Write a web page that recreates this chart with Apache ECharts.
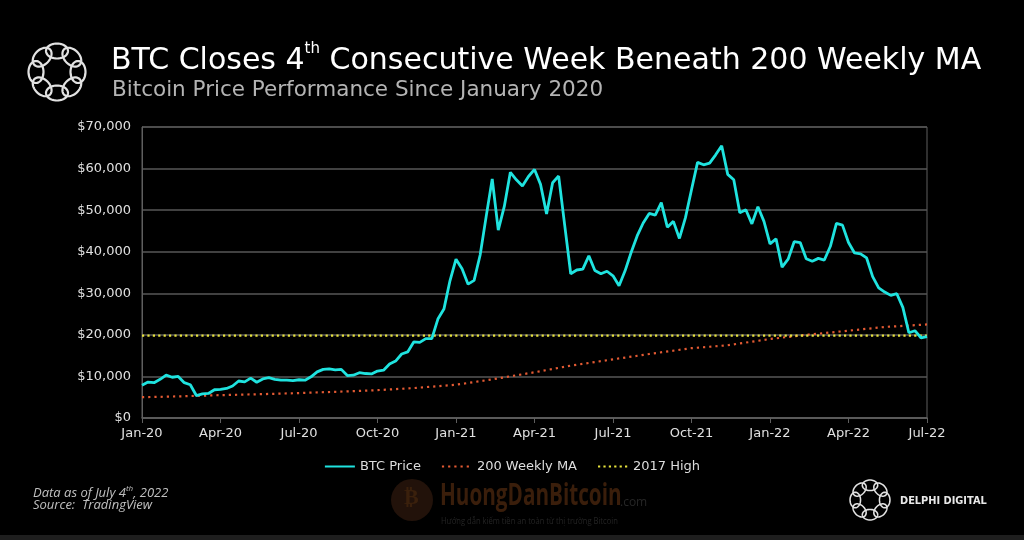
<!DOCTYPE html>
<html><head><meta charset="utf-8">
<script src="https://cdn.jsdelivr.net/npm/echarts@6/dist/echarts.min.js"></script>
<style>html,body{margin:0;padding:0;background:#000;}#c{width:1024px;height:540px;}</style>
</head><body><div id="c"></div>
<script>
const quarterLabels = ['Jan-20','Apr-20','Jul-20','Oct-20','Jan-21','Apr-21','Jul-21','Oct-21','Jan-22','Apr-22','Jul-22'];
const weeksPerQuarter = 13;
const btcPrice = [
  7900, 8650, 8500, 9300, 10300, 9800, 10000, 8500, 8000, 5400,
  5800, 5900, 6800, 6900, 7100, 7700, 8900, 8700, 9600, 8600,
  9400, 9700, 9300, 9100, 9100, 9000, 9200, 9100, 9900, 11100,
  11700, 11800, 11600, 11700, 10200, 10300, 10900, 10700, 10600, 11300,
  11500, 13000, 13700, 15400, 15900, 18300, 18200, 19100, 19100, 23800,
  26200, 33000, 38200, 35900, 32200, 33100, 39200, 48500, 57500, 45200,
  50900, 59100, 57300, 55800, 58100, 59800, 56200, 49100, 56600, 58200,
  46400, 34700, 35600, 35800, 39000, 35500, 34700, 35300, 34200, 31800,
  35400, 39800, 43800, 46900, 49200, 48800, 51800, 45900, 47300, 43200,
  48200, 54900, 61500, 60900, 61300, 63300, 65500, 58600, 57300, 49400,
  50100, 46700, 50800, 47300, 41900, 43100, 36300, 38200, 42400, 42200,
  38300, 37700, 38400, 38000, 41300, 46800, 46400, 42200, 39700, 39500,
  38500, 34000, 31300, 30300, 29500, 29900, 26600, 20500, 21000, 19300,
  19600
];
const maWeeks  = [0, 6, 13, 19, 26, 32, 39, 45, 52, 58, 65, 71, 78, 84, 91, 97, 104, 110, 117, 123, 130];
const maValues = [5000, 5200, 5500, 5700, 6000, 6300, 6700, 7200, 8000, 9300, 11000, 12600, 14100, 15400, 16800, 17500, 19000, 20000, 21000, 21900, 22500];
const high2017 = 19800;
const seriesNames = ['BTC Price', '200 Weekly MA', '2017 High'];

const FONT = 'DejaVu Sans';
const chart = echarts.init(document.getElementById('c'), null, {renderer: 'canvas'});

// decorative logo: 8 tangential loops around a ring
function logo(cx, cy, s) {
  const els = [];
  const R = 21 * s, rx = 11 * s, ry = 7.5 * s;
  for (let k = 0; k < 8; k++) {
    const a = k * Math.PI / 4 - Math.PI / 2;
    const phi = a + Math.PI / 2;
    const ox = cx + Math.cos(a) * R, oy = cy + Math.sin(a) * R;
    const pts = [];
    for (let j = 0; j < 48; j++) {
      const t = j / 48 * Math.PI * 2;
      const lx = rx * Math.cos(t), ly = ry * Math.sin(t);
      pts.push([ox + lx * Math.cos(phi) - ly * Math.sin(phi), oy + lx * Math.sin(phi) + ly * Math.cos(phi)]);
    }
    els.push({type: 'polygon', shape: {points: pts}, style: {fill: 'none', stroke: '#e2e2e2', lineWidth: 2.2 * s}});
  }
  return els;
}

const option = {
  backgroundColor: '#000',
  animation: false,
  title: [{
    text: '{a|BTC Closes 4}{s|th}{a| Consecutive Week Beneath 200 Weekly MA}',
    left: 106, top: 37,
    textStyle: {
      rich: {
        a: {fontSize: 30, color: '#ffffff', fontFamily: FONT, fontWeight: 'normal', lineHeight: 38},
        s: {fontSize: 15, color: '#ffffff', fontFamily: FONT, fontWeight: 'normal', lineHeight: 22, verticalAlign: 'top'}
      }
    }
  }, {
    text: 'Bitcoin Price Performance Since January 2020',
    left: 107, top: 74,
    textStyle: {fontSize: 21.5, color: '#b4b4b4', fontWeight: 'normal', fontFamily: FONT}
  }],
  legend: {
    top: 455, left: 'center',
    itemWidth: 30, itemHeight: 10, itemGap: 20,
    itemStyle: {opacity: 0},
    textStyle: {color: '#dddddd', fontSize: 13, fontFamily: FONT},
    data: seriesNames
  },
  grid: {left: 142, right: 97, top: 127, bottom: 122, show: true, borderColor: '#5f5f5f', borderWidth: 1},
  xAxis: {
    type: 'value', min: 0, max: (quarterLabels.length - 1) * weeksPerQuarter, interval: weeksPerQuarter,
    axisLine: {show: true, lineStyle: {color: '#5f5f5f', width: 1.5}},
    axisTick: {show: true, length: 5, lineStyle: {color: '#5f5f5f'}},
    axisLabel: {color: '#e0e0e0', fontSize: 13, fontFamily: FONT, margin: 9,
      formatter: v => quarterLabels[Math.round(v / weeksPerQuarter)] || ''},
    splitLine: {show: false}
  },
  yAxis: {
    type: 'value', min: 0, max: 70000, interval: 10000,
    axisLine: {show: true, lineStyle: {color: '#5f5f5f'}},
    axisTick: {show: false},
    axisLabel: {color: '#e0e0e0', fontSize: 13, fontFamily: FONT, margin: 11,
      formatter: v => '$' + v.toLocaleString('en-US')},
    splitLine: {lineStyle: {color: '#575757', width: 1.5}}
  },
  series: [{
    name: seriesNames[0], type: 'line', symbol: 'none', z: 5,
    data: btcPrice.map((v, i) => [i, v]),
    itemStyle: {color: '#1fe3df'},
    lineStyle: {color: '#1fe3df', width: 2.8}
  }, {
    name: seriesNames[1], type: 'line', symbol: 'none', z: 3,
    data: maWeeks.map((w, i) => [w, maValues[i]]),
    itemStyle: {color: '#e35a33'},
    lineStyle: {color: '#e35a33', width: 2.2, type: [2.2, 4]}
  }, {
    name: seriesNames[2], type: 'line', symbol: 'none', z: 4,
    data: [[0, high2017], [(quarterLabels.length - 1) * weeksPerQuarter, high2017]],
    itemStyle: {color: '#e6e23c'},
    lineStyle: {color: '#e6e23c', width: 2.2, type: [2.2, 3.2]}
  }],
  graphic: [
    {type: 'group', children: logo(57, 72, 1)},
    {type: 'group', children: logo(870, 500, 0.7)},
    {type: 'text', x: 900, y: 496, style: {text: 'DELPHI DIGITAL', fill: '#e8e8e8', font: 'bold 9.8px ' + FONT}},
    {type: 'text', x: 33, y: 485, style: {text: '{i|Data as of July 4}{s|th}{i|, 2022}', rich: {
      i: {font: 'italic 13px "Open Sans"', fill: '#c0c0c0', lineHeight: 16},
      s: {font: 'italic 8px "Open Sans"', fill: '#c0c0c0', lineHeight: 10, verticalAlign: 'top'}}}},
    {type: 'text', x: 33, y: 499, style: {text: 'Source:  TradingView', font: 'italic 13px "Open Sans"', fill: '#c0c0c0'}},
    {type: 'circle', shape: {cx: 412, cy: 500, r: 21}, style: {fill: '#22120a'}},
    {type: 'text', x: 404, y: 487, style: {text: '₿', font: 'bold 22px ' + FONT, fill: '#3a200c'}},
    {type: 'text', x: 440, y: 481, scaleX: 0.69, style: {text: 'HuongDanBitcoin', font: 'bold 30px "Open Sans"', fill: '#3a1e0b'}},
    {type: 'text', x: 620, y: 497, style: {text: '.com', font: '12px "Open Sans"', fill: '#262626'}},
    {type: 'text', x: 441, y: 516, scaleX: 0.8, style: {text: 'Hướng dẫn kiếm tiền an toàn từ thị trường Bitcoin', font: '9.5px "Open Sans"', fill: '#242424'}},
    {type: 'rect', shape: {x: 0, y: 535, width: 1024, height: 5}, style: {fill: '#1e1e1e'}}
  ]
};
chart.setOption(option);
</script>
</body></html>
